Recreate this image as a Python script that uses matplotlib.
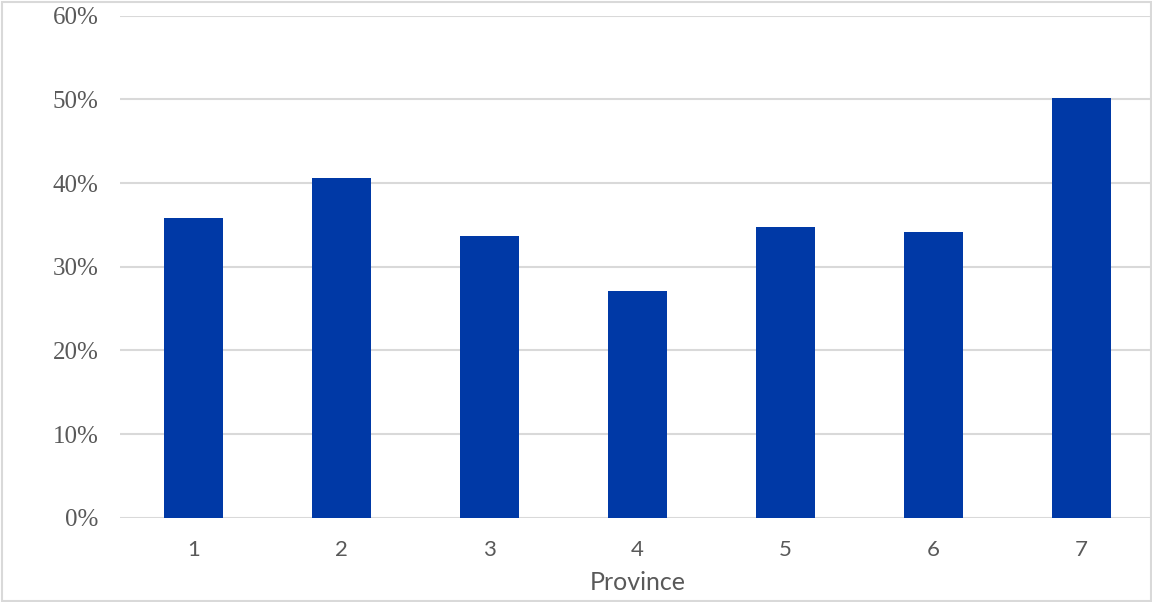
import numpy as np
import matplotlib.pyplot as plt
from matplotlib.patches import Rectangle

# share of households per province
provinces = ["1", "2", "3", "4", "5", "6", "7"]
shares = [0.358, 0.406, 0.337, 0.271, 0.347, 0.341, 0.502]

bar_color = "#0039a6"
grid_color = "#d9d9d9"
text_color = "#595959"

W, H = 1152, 602
fig = plt.figure(figsize=(W / 100, H / 100), dpi=100)

# plot area in pixel coordinates
x0, x1 = 119.5, 1155.5
y_top, y_bot = 15.7, 517.7
ax = fig.add_axes([x0 / W, (H - y_bot) / H, (x1 - x0) / W, (y_bot - y_top) / H])

x = np.arange(len(provinces))
ax.bar(x, shares, width=0.4, color=bar_color, zorder=3)

ax.set_xlim(-0.5, len(provinces) - 0.5)
ax.set_ylim(0, 0.6)
ax.set_yticks(np.arange(0, 0.61, 0.1))
ax.set_yticklabels([f"{int(round(v * 100))}%" for v in np.arange(0, 0.61, 0.1)],
                   fontfamily="Liberation Serif", fontsize=18, color=text_color)
ax.set_xticks(x)
ax.set_xticklabels(provinces, fontfamily="Lato", fontsize=16, color=text_color)
ax.tick_params(axis="y", length=0, pad=15)
ax.tick_params(axis="x", length=0, pad=16)

ax.grid(axis="y", color=grid_color, linewidth=1.5, zorder=0)
for s in ax.spines.values():
    s.set_visible(False)

ax.set_xlabel("Province", fontfamily="Lato", fontsize=18, color=text_color)
ax.xaxis.set_label_coords((638 - x0) / (x1 - x0), -(582 - y_bot) / (y_bot - y_top))
ax.xaxis.label.set_va("center")

# outer chart frame
fig.patches.append(Rectangle((2 / W, 1.5 / H), (W - 3) / W, (H - 3) / H,
                             transform=fig.transFigure, fill=False,
                             edgecolor=grid_color, linewidth=1.5))

fig.savefig("out.png", dpi=100)
